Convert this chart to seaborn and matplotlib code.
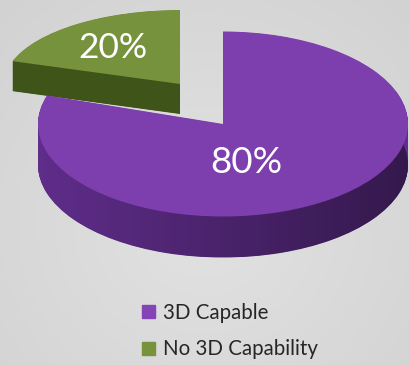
import numpy as np
import matplotlib.pyplot as plt
import matplotlib.transforms as mtransforms
import seaborn as sns
from matplotlib.colors import LinearSegmentedColormap
from matplotlib.patches import Patch

# chart data
labels = ['3D Capable', 'No 3D Capability']
shares = [80, 20]
pct_text = ['80%', '20%']
top_colors = ['#7e3fae', '#76923c']
side_colors = ['#5f2d8a', '#3f5418']
legend_colors = ['#8444b6', '#77933c']

sns.set_theme(style='white')
plt.rcParams['font.family'] = ['Lato', 'DejaVu Sans']

W, H = 409, 365
fig = plt.figure(figsize=(W / 100, H / 100), dpi=100)

# grey slide background, a bit lighter in the middle
bg = fig.add_axes([0, 0, 1, 1])
bg.axis('off')
yy, xx = np.mgrid[0:H, 0:W]
dist = np.hypot((xx - 205) / 280, (yy - 220) / 280)
bg_cmap = LinearSegmentedColormap.from_list('bg', ['#e2e2e2', '#d2d2d2'])
bg.imshow(dist, cmap=bg_cmap, aspect='auto', extent=(0, W, H, 0))

ax = fig.add_axes([0, 0, 1, 1])
ax.axis('off')
ax.patch.set_visible(False)


def py(y):
    # pixel row -> data y (y data units are half a pixel, squashes the pie)
    return 2 * (H - y)


# pie order: green first so it sits between 90 and 162 degrees
pie_vals = shares[::-1]


def draw_slice(k, cx, cy_pix, R, depth, sy, top, side, z, shade=False):
    cy = py(cy_pix)
    bottom = None
    for d in list(np.linspace(2 * depth, 0, 80)[:-1]) + [None]:
        cols = ['none', 'none']
        cols[k] = side if d is not None else top
        c = cy - (d or 0)
        w, _ = ax.pie(pie_vals, colors=cols, startangle=90, radius=R, center=(cx, c),
                      wedgeprops=dict(linewidth=0, zorder=z if d is not None else z + 1))
        # extra vertical squash about the slice centre
        tr = mtransforms.Affine2D().scale(1, sy).translate(0, c * (1 - sy)) + ax.transData
        for wi in w:
            wi.set_transform(tr)
        if bottom is None:
            bottom = w[k]
        if shade and d is not None and bottom is w[k]:
            # darker toward the right on the rim
            g = np.zeros((2, 200, 4))
            g[..., 3] = np.linspace(0.0, 0.45, 200)
            im = ax.imshow(g, extent=(cx - R, cx + R, cy - 2 * depth - R, cy + R), aspect='auto',
                           zorder=z + 0.5)
            im.set_clip_path(bottom)


# green slice pulled out to the upper left, purple in front
draw_slice(0, 180, 84, 176, 30, 0.84, top_colors[1], side_colors[1], 1)
draw_slice(1, 223, 124, 185, 41, 1.0, top_colors[0], side_colors[0], 3, shade=True)

ax.text(113, py(58), pct_text[1], ha='center', va='baseline', color='white', fontsize=25.5, zorder=6)
ax.text(246, py(173), pct_text[0], ha='center', va='baseline', color='white', fontsize=26.5, zorder=6)

ax.set_aspect('auto')
ax.set_xlim(0, W)
ax.set_ylim(0, 2 * H)

handles = [Patch(color=c) for c in legend_colors]
fig.legend(handles=handles, labels=labels, loc='upper left', bbox_to_anchor=(142 / W, 1 - 303 / H),
           frameon=False, borderpad=0, borderaxespad=0, handlelength=0.62, handleheight=0.62,
           handletextpad=0.38, labelspacing=0.8, fontsize=14.8)

fig.savefig('out.png', dpi=100)
